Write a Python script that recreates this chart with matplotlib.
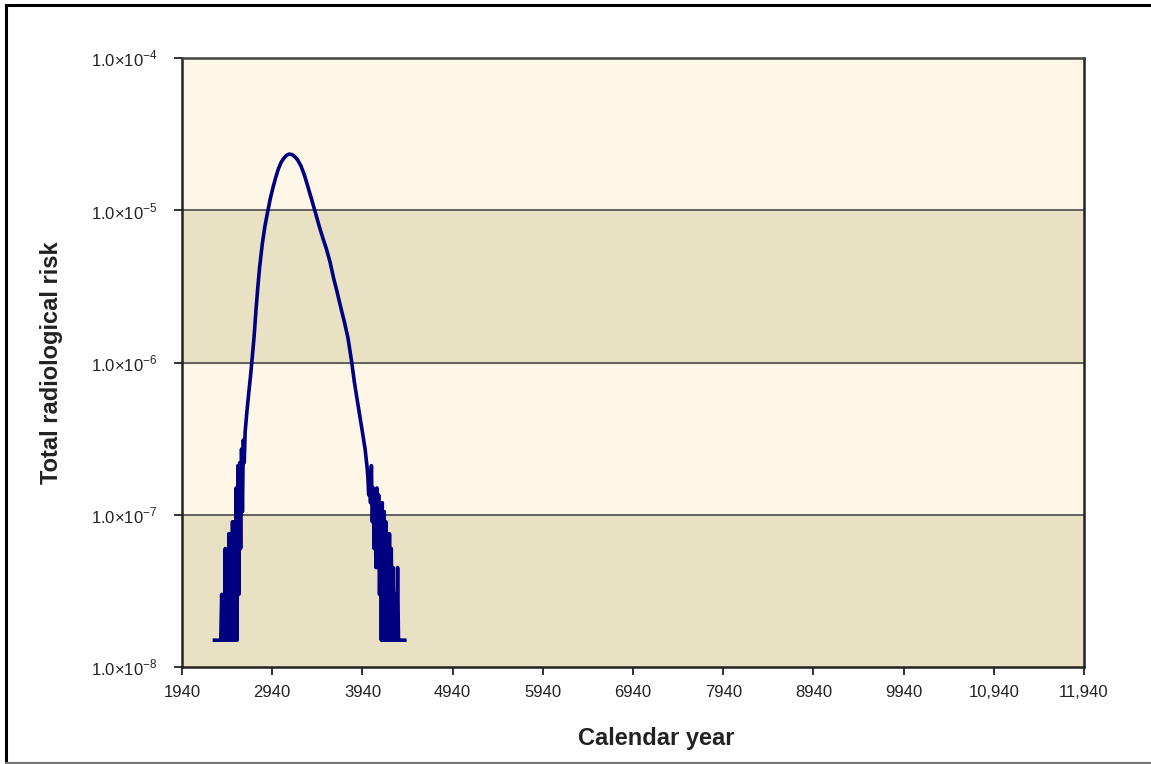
import matplotlib
matplotlib.use("Agg")
import matplotlib.pyplot as plt
from matplotlib.lines import Line2D
import numpy as np

DPI = 100

plt.rcParams["font.family"] = ["Liberation Sans", "DejaVu Sans"]
plt.rcParams["mathtext.fontset"] = "custom"
plt.rcParams["mathtext.rm"] = "Liberation Sans"
# keep the noisy zig-zag tails intact
plt.rcParams["path.simplify"] = False

# Early noisy tail (low counts, risk quantised in steps of 1.5e-8)
left_tail_years = [2300, 2310, 2320, 2330, 2340, 2350, 2360, 2370, 2380, 2390,
                   2400, 2410, 2420, 2430, 2440, 2450, 2460, 2470, 2480, 2490,
                   2500, 2510, 2520, 2530, 2540, 2550, 2560, 2570, 2580, 2590,
                   2600, 2610, 2620, 2630]
left_tail_risk = [1.5e-8, 1.5e-8, 1.5e-8, 1.5e-8, 1.5e-8, 1.5e-8, 1.5e-8, 1.5e-8, 3.0e-8, 1.5e-8,
                  3.0e-8, 1.5e-8, 6.0e-8, 1.5e-8, 3.0e-8, 1.5e-8, 7.5e-8, 1.5e-8, 7.5e-8, 1.5e-8,
                  9.0e-8, 1.5e-8, 9.0e-8, 1.5e-8, 1.5e-7, 1.5e-8, 2.1e-7, 3.0e-8, 2.2e-7, 6.0e-8,
                  2.7e-7, 1.05e-7, 3.1e-7, 2.2e-7]

# Main peak
main_years = [2640, 2660, 2680, 2700, 2720, 2740, 2760, 2780, 2800, 2830,
              2860, 2890, 2920, 2950, 2980, 3010, 3040, 3070, 3100, 3130,
              3160, 3190, 3220, 3260, 3300, 3340, 3380, 3420, 3460, 3500,
              3540, 3580, 3620, 3660, 3700, 3740, 3780, 3820, 3850, 3880,
              3910, 3940, 3970, 3990]
main_risk = [3.5e-7, 4.8e-7, 6.3e-7, 8.2e-7, 1.1e-6, 1.5e-6, 2.2e-6, 3.1e-6, 4.2e-6, 6.0e-6,
             7.9e-6, 9.8e-6, 1.2e-5, 1.42e-5, 1.65e-5, 1.88e-5, 2.07e-5, 2.2e-5, 2.3e-5, 2.34e-5,
             2.32e-5, 2.25e-5, 2.15e-5, 1.95e-5, 1.68e-5, 1.4e-5, 1.16e-5, 9.6e-6, 7.9e-6, 6.6e-6,
             5.6e-6, 4.6e-6, 3.6e-6, 2.9e-6, 2.3e-6, 1.85e-6, 1.45e-6, 1.02e-6, 7.5e-7, 5.8e-7,
             4.5e-7, 3.5e-7, 2.7e-7, 2.1e-7]

# Late noisy tail
right_tail_years = [4000, 4010, 4020, 4030, 4040, 4050, 4060, 4070, 4080, 4090,
                    4100, 4110, 4120, 4130, 4140, 4150, 4160, 4170, 4180, 4190,
                    4200, 4210, 4220, 4230, 4240, 4250, 4260, 4270, 4280, 4290,
                    4300, 4310, 4320, 4330, 4340, 4350, 4360, 4370, 4380, 4390,
                    4400, 4410]
right_tail_risk = [1.8e-7, 1.35e-7, 1.65e-7, 1.2e-7, 2.1e-7, 9.0e-8, 1.5e-7, 6.0e-8, 1.35e-7, 4.5e-8,
                   1.5e-7, 4.5e-8, 1.35e-7, 3.0e-8, 1.2e-7, 1.5e-8, 1.2e-7, 1.5e-8, 1.05e-7, 1.5e-8,
                   9.0e-8, 1.5e-8, 7.5e-8, 1.5e-8, 7.5e-8, 1.5e-8, 6.0e-8, 1.5e-8, 4.5e-8, 1.5e-8,
                   3.0e-8, 1.5e-8, 1.5e-8, 4.5e-8, 1.5e-8, 1.5e-8, 1.5e-8, 1.5e-8, 1.5e-8, 1.5e-8,
                   1.5e-8, 1.5e-8]

x_ticks = [1940, 2940, 3940, 4940, 5940, 6940, 7940, 8940, 9940, 10940, 11940]
x_tick_labels = ["1940", "2940", "3940", "4940", "5940", "6940", "7940", "8940", "9940",
                 "10,940", "11,940"]
y_ticks = [1e-8, 1e-7, 1e-6, 1e-5, 1e-4]
y_tick_labels = [r"1.0×10$^{\mathregular{-8}}$", r"1.0×10$^{\mathregular{-7}}$",
                 r"1.0×10$^{\mathregular{-6}}$", r"1.0×10$^{\mathregular{-5}}$",
                 r"1.0×10$^{\mathregular{-4}}$"]

LIGHT = "#fef6e7"
DARK = "#e9e1c3"

years = np.array(left_tail_years + main_years + right_tail_years)
risk = np.array(left_tail_risk + main_risk + right_tail_risk)

fig = plt.figure(figsize=(11.51, 7.64), dpi=DPI)
ax = fig.add_axes([182 / 1151, 1 - 667 / 764, (1084 - 182) / 1151, (667 - 58) / 764])

ax.set_facecolor(LIGHT)
ax.axhspan(1e-6, 1e-5, color=DARK, zorder=0)
ax.axhspan(1e-8, 1e-7, color=DARK, zorder=0)
for lvl in [1e-7, 1e-6, 1e-5]:
    ax.axhline(lvl, color="#4a4a4a", linewidth=1.2, zorder=1)

ax.plot(years, risk, color="#000080", linewidth=2.6, zorder=3)

ax.set_yscale("log")
ax.set_ylim(1e-8, 1e-4)
ax.set_xlim(1940, 11940)
ax.set_xticks(x_ticks)
ax.set_xticklabels(x_tick_labels)
ax.set_yticks(y_ticks)
ax.set_yticklabels(y_tick_labels)
ax.minorticks_off()
ax.tick_params(axis="both", direction="out", length=6, width=1.3, labelsize=12,
               color="#222222", labelcolor="#222222")
ax.tick_params(axis="y", pad=12)
ax.tick_params(axis="x", pad=7)

for side in ["left", "bottom", "right"]:
    ax.spines[side].set_linewidth(1.8)
    ax.spines[side].set_color("#222222")
ax.spines["top"].set_linewidth(1.8)
ax.spines["top"].set_color("#444444")

fig.text(656 / 1151, 1 - 738 / 764, "Calendar year", ha="center", va="center",
         fontsize=17, fontweight="bold", color="#222222")
fig.text(52 / 1151, 1 - 363 / 764, "Total radiological risk", ha="center", va="center",
         rotation=90, fontsize=17, fontweight="bold", color="#222222")

# outer frame
fig.add_artist(Line2D([6 / 1151, 6 / 1151], [0, 1 - 5 / 764], color="black", linewidth=2.2,
                      transform=fig.transFigure))
fig.add_artist(Line2D([6 / 1151, 1], [1 - 5 / 764, 1 - 5 / 764], color="black", linewidth=2.2,
                      transform=fig.transFigure))
fig.add_artist(Line2D([6 / 1151, 1], [1 - 763 / 764, 1 - 763 / 764], color="#777777",
                      linewidth=1.5, transform=fig.transFigure))

fig.savefig("out.png", dpi=DPI)
